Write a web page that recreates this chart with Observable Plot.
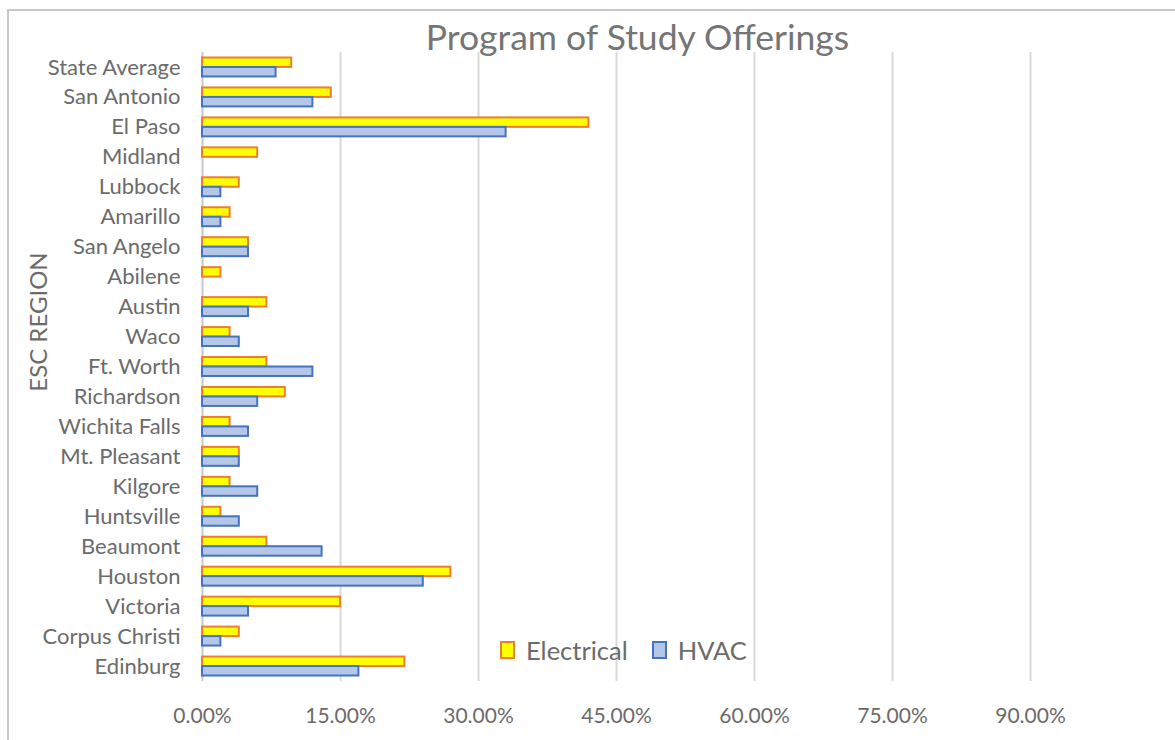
<!DOCTYPE html>
<html>
<head>
<meta charset="utf-8">
<script src="https://cdn.jsdelivr.net/npm/d3@7"></script>
<script src="https://cdn.jsdelivr.net/npm/@observablehq/plot@0.6"></script>
<style>
  html, body { margin: 0; padding: 0; background: #fff; }
  body { width: 1175px; height: 740px; position: relative; overflow: hidden; font-family: Lato, "Open Sans", sans-serif; }
  #title { height: 45px; line-height: 45px; text-align: center; font-size: 35.5px; color: #757575; position: relative; left: 50px; top: 14px; white-space: nowrap; }
  .frame-top { position: absolute; left: 7px; top: 9px; width: 1168px; height: 0; border-top: 2px solid #c8c8c8; }
  .frame-left { position: absolute; left: 7px; top: 9px; width: 0; height: 731px; border-left: 2px solid #c8c8c8; }
  #ylabel { position: absolute; left: 37px; top: 322px; transform: translate(-50%, -50%) rotate(-90deg); font-size: 24px; color: #6b6b6b; white-space: nowrap; }
  #legend { position: absolute; left: 500px; top: 635px; display: flex; align-items: center; font-size: 25.5px; color: #6b6b6b; }
  .item { display: flex; align-items: center; margin-right: 24px; }
  .sw { width: 11px; height: 14px; border: 2px solid; margin-right: 11px; }
  #chart svg { display: block; }
</style>
</head>
<body>
<div class="frame-top"></div>
<div class="frame-left"></div>
<div id="title">Program of Study Offerings</div>
<div id="chart"></div>
<div id="ylabel">ESC REGION</div>
<div id="legend"></div>
<script>
const regions = ["State Average","San Antonio","El Paso","Midland","Lubbock","Amarillo","San Angelo","Abilene","Austin","Waco","Ft. Worth","Richardson","Wichita Falls","Mt. Pleasant","Kilgore","Huntsville","Beaumont","Houston","Victoria","Corpus Christi","Edinburg"];
const electrical = [9.7, 14.0, 42.0, 6.0, 4.0, 3.0, 5.0, 2.0, 7.0, 3.0, 7.0, 9.0, 3.0, 4.0, 3.0, 2.0, 7.0, 27.0, 15.0, 4.0, 22.0];
const hvac = [8.0, 12.0, 33.0, 0, 2.0, 2.0, 5.0, 0, 5.0, 4.0, 12.0, 6.0, 5.0, 4.0, 6.0, 4.0, 13.0, 24.0, 5.0, 2.0, 17.0];
const xTicks = [0, 0.15, 0.30, 0.45, 0.60, 0.75, 0.90];
const seriesNames = ["Electrical", "HVAC"];
const fills = ["#ffff00", "#b4c7e7"];
const strokes = ["#ed7d31", "#4472c4"];

const elecData = regions.map((r, i) => ({region: r, value: electrical[i] / 100})).filter(d => d.value > 0);
const hvacData = regions.map((r, i) => ({region: r, value: hvac[i] / 100})).filter(d => d.value > 0);

const gray = "#6b6b6b";

const plot = Plot.plot({
  width: 1175,
  height: 695,
  marginTop: 7,
  marginBottom: 59,
  marginLeft: 202,
  marginRight: 145,
  style: {fontFamily: "Lato, 'Open Sans', sans-serif", fontSize: "22px", color: gray, background: "#fff"},
  x: {domain: [0, 0.9], ticks: xTicks, tickFormat: d3.format(".2%"), label: null, grid: false},
  y: {domain: regions, padding: 0, round: false, label: null},
  marks: [
    Plot.gridX(xTicks.slice(1), {stroke: "#d9d9d9", strokeOpacity: 1, strokeWidth: 2}),
    Plot.ruleX([0], {stroke: "#c8c8c8", strokeWidth: 2}),
    Plot.barX(elecData, {x: "value", y: "region", fill: fills[0], stroke: strokes[0], strokeWidth: 2, insetTop: 5.5, insetBottom: 15}),
    Plot.barX(hvacData, {x: "value", y: "region", fill: fills[1], stroke: strokes[1], strokeWidth: 2, insetTop: 15, insetBottom: 5.5}),
    Plot.axisX({ticks: xTicks, tickFormat: d3.format(".2%"), tickSize: 0, tickPadding: 27, fontSize: 21, fill: gray, label: null}),
    Plot.axisY({tickSize: 0, tickPadding: 22, fontSize: 22, fill: gray, label: null})
  ]
});
document.getElementById("chart").appendChild(plot);

const legend = document.getElementById("legend");
seriesNames.forEach((name, i) => {
  const item = document.createElement("div");
  item.className = "item";
  const sw = document.createElement("span");
  sw.className = "sw";
  sw.style.background = fills[i];
  sw.style.borderColor = strokes[i];
  const label = document.createElement("span");
  label.textContent = name;
  item.appendChild(sw);
  item.appendChild(label);
  legend.appendChild(item);
});
</script>
</body>
</html>
